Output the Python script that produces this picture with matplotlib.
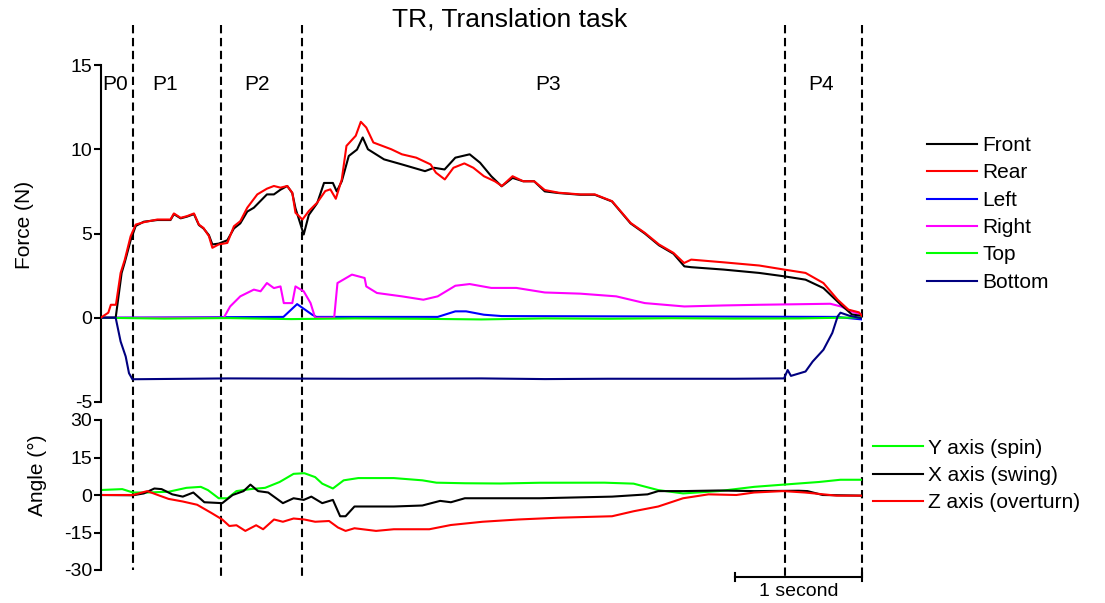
import matplotlib
matplotlib.use("Agg")
import matplotlib.pyplot as plt
from matplotlib.transforms import blended_transform_factory

plt.rcParams['font.family'] = ['Liberation Sans', 'DejaVu Sans']
plt.rcParams['axes.unicode_minus'] = False

# phase boundaries (s) and labels
phase_edges = [0.252, 0.95, 1.59, 5.39, 6.0]
phase_names = ["P0", "P1", "P2", "P3", "P4"]
phase_label_t = [0.117, 0.507, 1.232, 3.525, 5.68]

# force traces (N)
front_t = [0, 0.118, 0.165, 0.19, 0.236, 0.276, 0.34, 0.446, 0.55, 0.577, 0.63, 0.68, 0.735, 0.774,
           0.81, 0.853, 0.88, 0.93, 0.998, 1.05, 1.10, 1.155, 1.207, 1.31, 1.365, 1.417, 1.47, 1.51,
           1.535, 1.60, 1.64, 1.706, 1.76, 1.83, 1.86, 1.90, 1.955, 2.02, 2.065, 2.106, 2.233, 2.374,
           2.556, 2.627, 2.71, 2.795, 2.908, 2.99, 3.078, 3.16, 3.246, 3.33, 3.416, 3.5, 3.61, 3.78,
           3.894, 4.03, 4.176, 4.288, 4.40, 4.514, 4.6, 4.654, 4.908, 5.19, 5.386, 5.555, 5.696,
           5.834, 5.92, 6.0]
front_f = [0, 0, 2.66, 3.3, 4.6, 5.45, 5.7, 5.8, 5.8, 6.15, 5.9, 6.0, 6.15, 5.5,
           5.3, 4.9, 4.35, 4.4, 4.6, 5.3, 5.6, 6.3, 6.53, 7.32, 7.32, 7.6, 7.82, 7.4,
           6.5, 4.94, 6.1, 6.8, 8.0, 8.0, 7.5, 8.1, 9.6, 9.98, 10.7, 10.0, 9.4, 9.1,
           8.7, 8.9, 8.8, 9.5, 9.7, 9.2, 8.4, 7.8, 8.3, 8.1, 8.1, 7.5, 7.4, 7.3,
           7.3, 6.9, 5.6, 5.0, 4.3, 3.8, 3.05, 3.0, 2.86, 2.66, 2.46, 2.26, 1.76,
           0.77, 0.2, 0.1]

rear_t = [0, 0.06, 0.08, 0.12, 0.157, 0.19, 0.236, 0.276, 0.34, 0.446, 0.55, 0.577, 0.63, 0.68,
          0.735, 0.774, 0.81, 0.853, 0.88, 0.93, 0.998, 1.05, 1.10, 1.155, 1.234, 1.31, 1.365,
          1.417, 1.47, 1.51, 1.535, 1.59, 1.64, 1.706, 1.77, 1.81, 1.853, 1.90, 1.937, 2.01, 2.05,
          2.093, 2.149, 2.29, 2.374, 2.487, 2.6, 2.642, 2.712, 2.78, 2.866, 2.937, 3.02, 3.106,
          3.162, 3.246, 3.33, 3.416, 3.5, 3.61, 3.78, 3.894, 4.03, 4.176, 4.288, 4.40, 4.514,
          4.598, 4.654, 4.908, 5.19, 5.386, 5.555, 5.696, 5.808, 5.893, 5.976, 6.0]
rear_f = [0, 0.3, 0.77, 0.77, 2.66, 3.45, 4.84, 5.53, 5.67, 5.83, 5.83, 6.19, 5.93, 6.03,
          6.19, 5.53, 5.33, 4.84, 4.15, 4.35, 4.44, 5.43, 5.73, 6.53, 7.32, 7.66, 7.82,
          7.72, 7.82, 7.42, 6.23, 5.83, 6.33, 6.83, 7.52, 7.62, 7.06, 8.21, 10.2, 10.8, 11.63,
          11.29, 10.4, 10.0, 9.7, 9.5, 9.1, 8.61, 8.21, 8.9, 9.16, 8.9, 8.4, 8.1,
          7.82, 8.4, 8.1, 8.1, 7.58, 7.42, 7.32, 7.32, 6.92, 5.63, 5.04, 4.35, 3.85,
          3.25, 3.45, 3.29, 3.1, 2.86, 2.66, 2.06, 1.07, 0.48, 0.32, 0.1]

left_t = [0, 1.44, 1.548, 1.667, 1.7, 2.656, 2.795, 2.88, 3.02, 3.16, 5.8, 6.0]
left_f = [0.0, 0.05, 0.81, 0.18, 0.05, 0.05, 0.38, 0.38, 0.18, 0.1, 0.05, -0.1]

right_t = [0, 0.97, 1.02, 1.10, 1.207, 1.26, 1.31, 1.365, 1.417, 1.443, 1.51, 1.535, 1.60, 1.654,
           1.69, 1.84, 1.866, 1.98, 2.08, 2.093, 2.177, 2.374, 2.543, 2.656, 2.795, 2.908, 3.078,
           3.276, 3.5, 3.78, 4.063, 4.288, 4.6, 4.908, 5.19, 5.75, 5.834, 5.92, 6.0]
right_f = [0, 0, 0.67, 1.27, 1.67, 1.57, 2.06, 1.76, 1.86, 0.87, 0.87, 1.86, 1.57, 0.87,
           0, 0, 2.06, 2.56, 2.36, 1.86, 1.47, 1.27, 1.07, 1.27, 1.9, 2.0, 1.77,
           1.77, 1.5, 1.43, 1.27, 0.87, 0.67, 0.73, 0.77, 0.83, 0.67, 0.37, 0.17]

top_t = [0, 0.5, 1.0, 1.5, 2.0, 2.5, 3.0, 3.5, 4.0, 4.5, 5.0, 5.5, 6.0]
top_f = [0, -0.05, -0.02, -0.08, -0.04, -0.06, -0.1, -0.04, -0.06, -0.03, -0.05, -0.04, 0.02]

bottom_t = [0, 0.118, 0.157, 0.197, 0.223, 0.25, 1.0, 2.0, 3.0, 3.5, 4.0, 5.0, 5.386, 5.414,
            5.44, 5.555, 5.611, 5.696, 5.766, 5.808, 5.83, 5.9, 6.0]
bottom_f = [0, 0, -1.41, -2.3, -3.29, -3.65, -3.6, -3.62, -3.6, -3.64, -3.62, -3.62, -3.6, -3.1,
            -3.45, -3.19, -2.6, -1.9, -0.9, 0.08, 0.3, 0.12, -0.03]

# angle traces (deg)
spin_t = [0, 0.17, 0.254, 0.367, 0.535, 0.676, 0.789, 0.845, 0.93, 1.0, 1.07, 1.18, 1.296, 1.41,
          1.52, 1.605, 1.69, 1.746, 1.83, 1.915, 2.03, 2.31, 2.535, 2.646, 2.87, 3.15, 3.46, 3.97,
          4.2, 4.394, 4.59, 4.87, 5.15, 5.38, 5.66, 5.83, 6.0]
spin_a = [2.0, 2.35, 1.0, 1.0, 1.3, 2.87, 3.26, 1.96, -1.3, -1.3, 1.56, 2.35, 2.87, 5.2,
          8.46, 8.72, 7.16, 4.54, 2.6, 5.87, 6.77, 6.77, 5.87, 4.93, 4.7, 4.6, 4.9, 4.93,
          4.54, 1.96, 0.63, 1.56, 3.26, 4.15, 5.2, 6.1, 6.1]

swing_t = [0, 0.254, 0.34, 0.423, 0.48, 0.564, 0.647, 0.73, 0.817, 0.958, 1.04, 1.126, 1.18, 1.24,
           1.32, 1.436, 1.52, 1.60, 1.66, 1.746, 1.83, 1.887, 1.93, 2.0, 2.31, 2.535, 2.675, 2.76,
           2.87, 3.15, 3.46, 4.03, 4.31, 4.394, 4.59, 4.87, 5.15, 5.5, 5.57, 5.69, 6.0]
swing_a = [0, -0.1, 0.63, 2.6, 2.35, 0.26, -0.65, 1.0, -2.9, -3.26, 0, 1.56, 4.15, 1.56,
           1.0, -3.26, -1.3, -1.96, -0.65, -3.26, -1.96, -8.5, -8.5, -4.6, -4.6, -4.2, -2.35, -2.9,
           -1.3, -1.3, -1.3, -0.65, 0.26, 1.56, 1.56, 1.8, 1.56, 1.7, 1.56, 0, -0.26]

overturn_t = [0, 0.254, 0.367, 0.45, 0.535, 0.647, 0.76, 0.873, 0.958, 1.014, 1.07, 1.14, 1.225,
              1.28, 1.366, 1.436, 1.52, 1.605, 1.69, 1.80, 1.87, 1.93, 2.0, 2.17, 2.31, 2.59, 2.76,
              3.01, 3.29, 3.6, 4.03, 4.2, 4.394, 4.59, 4.79, 5.01, 5.15, 5.38, 5.55, 5.8, 6.0]
overturn_a = [0, 0, 1.56, 0, -1.56, -2.6, -3.9, -7.2, -9.8, -12.4, -12.1, -14.36, -12.1,
              -13.7, -9.8, -10.7, -9.4, -9.8, -10.7, -10.4, -13.0, -14.36, -13.3, -14.36, -13.7, -13.7, -12.0,
              -10.7, -9.8, -9.1, -8.5, -6.5, -4.6, -1.3, 0.26, 0, 1.0, 1.56, 1.0, -0.26, -0.26]

W, H = 1105, 603
fig = plt.figure(figsize=(W / 100, H / 100), dpi=100)

x0 = 100.7 / W
xw = (862 - 100.7) / W
ax1 = fig.add_axes([x0, 1 - 402 / H, xw, (402 - 65) / H])
ax2 = fig.add_axes([x0, 1 - 570 / H, xw, (570 - 420) / H])

lw = 1.5
ax1.plot(front_t, front_f, color="black", lw=lw, label="Front", zorder=3)
ax1.plot(rear_t, rear_f, color="#ff0000", lw=lw, label="Rear", zorder=4)
ax1.plot(left_t, left_f, color="#0000ff", lw=lw, label="Left", zorder=2)
ax1.plot(right_t, right_f, color="#ff00ff", lw=lw, label="Right", zorder=2)
ax1.plot(top_t, top_f, color="#00ff00", lw=lw, label="Top", zorder=3)
ax1.plot(bottom_t, bottom_f, color="#000080", lw=lw, label="Bottom", zorder=3)

ax2.plot(spin_t, spin_a, color="#00ff00", lw=lw, label="Y axis (spin)")
ax2.plot(swing_t, swing_a, color="black", lw=lw, label="X axis (swing)")
ax2.plot(overturn_t, overturn_a, color="#ff0000", lw=lw, label="Z axis (overturn)")

ax1.set_ylim(-5, 15)
ax1.set_yticks([-5, 0, 5, 10, 15])
ax2.set_ylim(-30, 30)
ax2.set_yticks([-30, -15, 0, 15, 30])

for ax in (ax1, ax2):
    ax.set_xlim(0, 6)
    ax.set_xticks([])
    for s in ("top", "right", "bottom"):
        ax.spines[s].set_visible(False)
    ax.spines["left"].set_linewidth(1.5)
    ax.tick_params(axis="y", direction="out", length=5, width=1.5, labelsize=14, pad=1)
    ax.patch.set_visible(False)

# phase dividers spanning both panels
tr = blended_transform_factory(ax1.transData, fig.transFigure)
for i, t in enumerate(phase_edges):
    y_end = 570 if i == 0 else 578
    ax1.plot([t, t], [1 - 25 / H, 1 - y_end / H], transform=tr, color="black",
             lw=1.5, ls=(0, (4, 2.2)), clip_on=False, zorder=1)

for name, t in zip(phase_names, phase_label_t):
    ax1.text(t, 13.86, name, ha="center", va="center", fontsize=15)

# 1 second scale bar
ax2.plot([5.0, 6.0], [1 - 577 / H, 1 - 577 / H], transform=tr, color="black", lw=1.5, clip_on=False)
for t in (5.0, 6.0):
    ax2.plot([t, t], [1 - 573 / H, 1 - 581 / H], transform=tr, color="black", lw=1.5, clip_on=False)
ax2.text(5.5, 1 - 591 / H, "1 second", transform=tr, ha="center", va="center", fontsize=14)

fig.text(510 / W, 1 - 19 / H, "TR, Translation task", ha="center", va="center", fontsize=19)
fig.text(25 / W, 1 - 225 / H, "Force (N)", rotation=90, ha="center", va="center", fontsize=15)
fig.text(37 / W, 1 - 475 / H, "Angle (°)", rotation=90, ha="center", va="center", fontsize=15)

leg_kw = dict(frameon=False, fontsize=15, handlelength=2.4, handletextpad=0.25,
              borderpad=0, borderaxespad=0, labelspacing=0.4, loc="center left")
fig.legend(*ax1.get_legend_handles_labels(), bbox_to_anchor=(927 / W, 1 - 214 / H), **leg_kw)
fig.legend(*ax2.get_legend_handles_labels(), bbox_to_anchor=(873 / W, 1 - 475.5 / H), **leg_kw)

fig.savefig("out.png", dpi=100)
